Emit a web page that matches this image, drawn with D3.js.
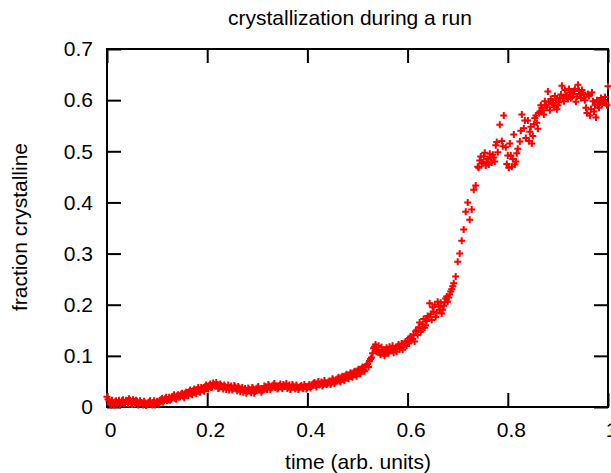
<!DOCTYPE html>
<html>
<head>
<meta charset="utf-8">
<script src="https://cdn.jsdelivr.net/npm/d3@7"></script>
<style>
  body { margin: 0; background: #fff; }
  svg { display: block; }
</style>
</head>
<body>
<div id="chart"></div>
<script>
const xTicks = [0, 0.2, 0.4, 0.6, 0.8, 1];
const yTicks = [0, 0.1, 0.2, 0.3, 0.4, 0.5, 0.6, 0.7];

// [time, fraction], base sampling
const runMain = [
    [0.000, 0.020], [0.004, 0.012], [0.008, 0.004], [0.012, 0.008], [0.016, 0.010],
    [0.020, 0.006], [0.024, 0.013], [0.028, 0.009], [0.032, 0.014], [0.036, 0.008],
    [0.040, 0.012], [0.044, 0.016], [0.048, 0.010], [0.052, 0.014], [0.056, 0.007],
    [0.060, 0.011], [0.064, 0.006], [0.068, 0.009], [0.072, 0.004], [0.076, 0.008],
    [0.080, 0.005], [0.084, 0.010], [0.088, 0.006], [0.092, 0.009], [0.096, 0.004],
    [0.100, 0.011], [0.104, 0.008], [0.108, 0.014], [0.112, 0.010], [0.116, 0.016],
    [0.120, 0.012], [0.124, 0.019], [0.128, 0.015], [0.132, 0.021], [0.136, 0.017],
    [0.140, 0.022], [0.144, 0.019], [0.148, 0.025], [0.152, 0.021], [0.156, 0.027],
    [0.160, 0.024], [0.164, 0.030], [0.168, 0.026], [0.172, 0.032], [0.176, 0.028],
    [0.180, 0.034], [0.184, 0.031], [0.188, 0.038], [0.192, 0.033], [0.196, 0.040],
    [0.200, 0.036], [0.204, 0.042], [0.208, 0.038], [0.212, 0.047], [0.216, 0.041],
    [0.220, 0.044], [0.224, 0.037], [0.228, 0.042], [0.232, 0.035], [0.236, 0.040],
    [0.240, 0.038], [0.244, 0.033], [0.248, 0.041], [0.252, 0.036], [0.256, 0.039],
    [0.260, 0.032], [0.264, 0.037], [0.268, 0.034], [0.272, 0.029], [0.276, 0.036],
    [0.280, 0.031], [0.284, 0.034], [0.288, 0.028], [0.292, 0.035], [0.296, 0.031],
    [0.300, 0.037], [0.304, 0.033], [0.308, 0.029], [0.312, 0.036], [0.316, 0.039],
    [0.320, 0.034], [0.324, 0.041], [0.328, 0.037], [0.332, 0.043], [0.336, 0.038],
    [0.340, 0.035], [0.344, 0.042], [0.348, 0.039], [0.352, 0.044], [0.356, 0.040],
    [0.360, 0.036], [0.364, 0.043], [0.368, 0.038], [0.372, 0.041], [0.376, 0.035],
    [0.380, 0.039], [0.384, 0.037], [0.388, 0.042], [0.392, 0.036], [0.396, 0.040],
    [0.400, 0.038], [0.404, 0.044], [0.408, 0.040], [0.412, 0.046], [0.416, 0.042],
    [0.420, 0.047], [0.424, 0.043], [0.428, 0.049], [0.432, 0.044], [0.436, 0.048],
    [0.440, 0.045], [0.444, 0.051], [0.448, 0.047], [0.452, 0.053], [0.456, 0.049],
    [0.460, 0.055], [0.464, 0.051], [0.468, 0.058], [0.472, 0.054], [0.476, 0.061],
    [0.480, 0.057], [0.484, 0.063], [0.488, 0.060], [0.492, 0.067], [0.496, 0.063],
    [0.500, 0.071], [0.504, 0.068], [0.508, 0.075], [0.512, 0.072], [0.516, 0.079],
    [0.520, 0.084], [0.524, 0.090], [0.528, 0.097], [0.532, 0.115], [0.536, 0.122],
    [0.540, 0.112], [0.544, 0.106], [0.548, 0.117], [0.552, 0.104], [0.556, 0.112],
    [0.560, 0.108], [0.564, 0.118], [0.568, 0.110], [0.572, 0.106], [0.576, 0.115],
    [0.580, 0.119], [0.584, 0.113], [0.588, 0.124], [0.592, 0.118], [0.596, 0.128],
    [0.600, 0.128], [0.604, 0.135], [0.608, 0.130], [0.612, 0.142], [0.616, 0.148],
    [0.620, 0.141], [0.624, 0.165], [0.628, 0.152], [0.632, 0.172], [0.636, 0.160],
    [0.640, 0.178], [0.644, 0.203], [0.648, 0.170], [0.652, 0.186], [0.656, 0.176],
    [0.660, 0.206], [0.664, 0.190], [0.668, 0.183], [0.672, 0.198], [0.676, 0.212],
    [0.680, 0.206], [0.684, 0.220], [0.688, 0.230], [0.692, 0.242], [0.696, 0.255],
    [0.700, 0.284], [0.704, 0.300], [0.708, 0.325], [0.712, 0.347], [0.716, 0.382],
    [0.720, 0.400], [0.724, 0.366], [0.728, 0.386], [0.732, 0.425], [0.736, 0.433],
    [0.740, 0.470], [0.744, 0.482], [0.748, 0.476], [0.752, 0.490], [0.756, 0.472],
    [0.760, 0.485], [0.764, 0.495], [0.768, 0.478], [0.772, 0.488], [0.776, 0.512],
    [0.780, 0.498], [0.784, 0.552], [0.788, 0.520], [0.792, 0.570], [0.796, 0.508],
    [0.800, 0.492], [0.804, 0.515], [0.808, 0.470], [0.812, 0.533], [0.816, 0.480],
    [0.820, 0.505], [0.824, 0.519], [0.828, 0.572], [0.832, 0.545], [0.836, 0.526],
    [0.840, 0.560], [0.844, 0.538], [0.848, 0.515], [0.852, 0.553], [0.856, 0.570],
    [0.860, 0.544], [0.864, 0.578], [0.868, 0.585], [0.872, 0.572], [0.876, 0.590],
    [0.880, 0.617], [0.884, 0.580], [0.888, 0.595], [0.892, 0.586], [0.896, 0.600],
    [0.900, 0.590], [0.904, 0.604], [0.908, 0.628], [0.912, 0.598], [0.916, 0.610],
    [0.920, 0.602], [0.924, 0.615], [0.928, 0.606], [0.932, 0.618], [0.936, 0.597],
    [0.940, 0.630], [0.944, 0.612], [0.948, 0.620], [0.952, 0.605], [0.956, 0.585],
    [0.960, 0.612], [0.964, 0.570], [0.968, 0.615], [0.972, 0.578], [0.976, 0.566],
    [0.980, 0.590], [0.984, 0.598], [0.988, 0.592], [0.992, 0.600], [0.996, 0.594],
    [1.000, 0.627]
];

// in-between samples of the slow early stage
const runEarly = [
    [0.002, 0.015], [0.006, 0.006], [0.010, 0.013], [0.014, 0.004], [0.018, 0.012],
    [0.022, 0.009], [0.026, 0.004], [0.030, 0.012], [0.034, 0.006], [0.038, 0.013],
    [0.042, 0.007], [0.046, 0.013], [0.050, 0.005], [0.054, 0.011], [0.058, 0.013],
    [0.062, 0.004], [0.066, 0.012], [0.070, 0.008], [0.074, 0.011], [0.078, 0.003],
    [0.082, 0.008], [0.086, 0.012], [0.090, 0.004], [0.094, 0.012], [0.098, 0.008],
    [0.102, 0.006], [0.106, 0.013], [0.110, 0.017], [0.114, 0.012], [0.118, 0.019],
    [0.122, 0.014], [0.126, 0.013], [0.130, 0.020], [0.134, 0.024], [0.138, 0.015],
    [0.142, 0.024], [0.146, 0.020], [0.150, 0.027], [0.154, 0.018], [0.158, 0.029],
    [0.162, 0.022], [0.166, 0.033], [0.170, 0.024], [0.174, 0.035], [0.178, 0.026],
    [0.182, 0.038], [0.186, 0.029], [0.190, 0.036], [0.194, 0.031], [0.198, 0.043],
    [0.202, 0.035], [0.206, 0.045], [0.210, 0.039], [0.214, 0.044], [0.218, 0.048],
    [0.222, 0.036], [0.226, 0.045], [0.230, 0.039], [0.234, 0.043], [0.238, 0.034],
    [0.242, 0.043], [0.246, 0.037], [0.250, 0.033], [0.254, 0.042], [0.258, 0.035],
    [0.262, 0.040], [0.266, 0.030], [0.270, 0.038], [0.274, 0.033], [0.278, 0.027],
    [0.282, 0.037], [0.286, 0.031], [0.290, 0.038], [0.294, 0.027], [0.298, 0.034],
    [0.302, 0.040], [0.306, 0.035], [0.310, 0.032], [0.314, 0.041], [0.318, 0.035],
    [0.322, 0.044], [0.326, 0.034], [0.330, 0.039], [0.334, 0.046], [0.338, 0.041],
    [0.342, 0.037], [0.346, 0.045], [0.350, 0.036], [0.354, 0.041], [0.358, 0.046],
    [0.362, 0.039], [0.366, 0.034], [0.370, 0.044], [0.374, 0.038], [0.378, 0.043],
    [0.382, 0.034], [0.386, 0.040], [0.390, 0.037], [0.394, 0.044], [0.398, 0.035],
    [0.402, 0.041], [0.406, 0.037], [0.410, 0.043], [0.414, 0.048], [0.418, 0.039],
    [0.422, 0.050], [0.426, 0.045], [0.430, 0.041], [0.434, 0.052], [0.438, 0.044],
    [0.442, 0.049], [0.446, 0.044], [0.450, 0.055], [0.454, 0.046], [0.458, 0.052],
    [0.462, 0.058], [0.466, 0.049], [0.470, 0.060], [0.474, 0.052], [0.478, 0.064],
    [0.482, 0.055], [0.486, 0.067], [0.490, 0.058], [0.494, 0.070], [0.498, 0.060],
    [0.502, 0.074], [0.506, 0.065], [0.510, 0.078], [0.514, 0.070], [0.518, 0.082],
    [0.522, 0.078], [0.526, 0.094], [0.530, 0.105]
];

// in-between samples where the later run is denser
const runLate = [
    [0.534, 0.118], [0.538, 0.108], [0.542, 0.120], [0.546, 0.102], [0.550, 0.110],
    [0.554, 0.100], [0.558, 0.116], [0.562, 0.105], [0.566, 0.113], [0.570, 0.120],
    [0.574, 0.112], [0.578, 0.108], [0.582, 0.122], [0.586, 0.117], [0.590, 0.112],
    [0.594, 0.125], [0.598, 0.120],
    [0.602, 0.124], [0.606, 0.138], [0.610, 0.133], [0.614, 0.128], [0.618, 0.150],
    [0.622, 0.156], [0.626, 0.147], [0.630, 0.162], [0.634, 0.155], [0.638, 0.168],
    [0.642, 0.175], [0.646, 0.182], [0.650, 0.195], [0.654, 0.200], [0.658, 0.185],
    [0.662, 0.196], [0.666, 0.204], [0.670, 0.190], [0.674, 0.205], [0.678, 0.216],
    [0.682, 0.214], [0.686, 0.226], [0.690, 0.236],
    [0.742, 0.468], [0.746, 0.490], [0.750, 0.478], [0.754, 0.497], [0.758, 0.480],
    [0.762, 0.474], [0.766, 0.488], [0.770, 0.493], [0.774, 0.480], [0.778, 0.518],
    [0.790, 0.510], [0.798, 0.475], [0.802, 0.468], [0.806, 0.492], [0.810, 0.485],
    [0.814, 0.474], [0.818, 0.496],
    [0.826, 0.540], [0.834, 0.560], [0.842, 0.520], [0.846, 0.548], [0.850, 0.530],
    [0.854, 0.565], [0.858, 0.556], [0.862, 0.575], [0.866, 0.590], [0.870, 0.580],
    [0.874, 0.598], [0.878, 0.586], [0.882, 0.597], [0.886, 0.602], [0.890, 0.592],
    [0.894, 0.608], [0.898, 0.582], [0.902, 0.596], [0.906, 0.611], [0.910, 0.603],
    [0.914, 0.620], [0.918, 0.607], [0.922, 0.622], [0.926, 0.604], [0.930, 0.612],
    [0.934, 0.622], [0.938, 0.607], [0.942, 0.618], [0.946, 0.604], [0.950, 0.615],
    [0.954, 0.600], [0.958, 0.575], [0.962, 0.608], [0.966, 0.582], [0.970, 0.598],
    [0.974, 0.590], [0.978, 0.600], [0.982, 0.585], [0.986, 0.604], [0.990, 0.596],
    [0.994, 0.606], [0.998, 0.590]
];

const width = 611, height = 473;
const plotLeft = 107, plotRight = 608, plotTop = 49, plotBottom = 407;
const font = "'Liberation Sans', Arial, sans-serif";
const fontSize = 21;
const fmt = d3.format("~g");

const svg = d3.select("#chart").append("svg")
    .attr("width", width)
    .attr("height", height)
    .attr("font-family", font);

const x = d3.scaleLinear().domain([0, 1]).range([plotLeft, plotRight]);
const y = d3.scaleLinear().domain([0, 0.7]).range([plotBottom, plotTop]);

function styleAxis(g) {
    g.attr("font-size", fontSize).attr("font-family", font);
    g.select(".domain").remove();
    g.selectAll(".tick line").attr("stroke", "#000").attr("stroke-width", 2);
    g.selectAll(".tick text").attr("fill", "#000");
}

svg.append("g")
    .attr("transform", `translate(0,${plotBottom})`)
    .call(d3.axisBottom(x).tickValues(xTicks).tickSizeInner(-14).tickSizeOuter(0)
        .tickPadding(15).tickFormat(fmt))
    .call(styleAxis)
    .call(g => g.selectAll(".tick text").attr("x", 3));

svg.append("g")
    .attr("transform", `translate(0,${plotTop})`)
    .call(d3.axisTop(x).tickValues(xTicks).tickSizeInner(-14).tickSizeOuter(0)
        .tickFormat(""))
    .call(styleAxis);

svg.append("g")
    .attr("transform", `translate(${plotLeft},0)`)
    .call(d3.axisLeft(y).tickValues(yTicks).tickSizeInner(-14).tickSizeOuter(0)
        .tickPadding(14).tickFormat(fmt))
    .call(styleAxis);

svg.append("g")
    .attr("transform", `translate(${plotRight},0)`)
    .call(d3.axisRight(y).tickValues(yTicks).tickSizeInner(-14).tickSizeOuter(0)
        .tickFormat(""))
    .call(styleAxis);

// frame
svg.append("rect")
    .attr("x", plotLeft)
    .attr("y", plotTop)
    .attr("width", plotRight - plotLeft)
    .attr("height", plotBottom - plotTop)
    .attr("fill", "none")
    .attr("stroke", "#000")
    .attr("stroke-width", 2);

// plus markers
const points = runMain.concat(runEarly, runLate);
svg.append("g")
    .selectAll("path")
    .data(points)
    .enter()
    .append("path")
    .attr("transform", d => `translate(${x(d[0])},${y(d[1])})`)
    .attr("d", "M-3.5,0H3.5M0,-3.5V3.5")
    .attr("stroke", "#ff0000")
    .attr("stroke-width", 2)
    .attr("fill", "none");

svg.append("text")
    .attr("x", 350)
    .attr("y", 25)
    .attr("text-anchor", "middle")
    .attr("font-size", fontSize)
    .text("crystallization during a run");

svg.append("text")
    .attr("x", 358)
    .attr("y", 469)
    .attr("text-anchor", "middle")
    .attr("font-size", fontSize)
    .text("time (arb. units)");

svg.append("text")
    .attr("transform", "translate(27,227) rotate(-90)")
    .attr("text-anchor", "middle")
    .attr("font-size", fontSize)
    .text("fraction crystalline");
</script>
</body>
</html>
